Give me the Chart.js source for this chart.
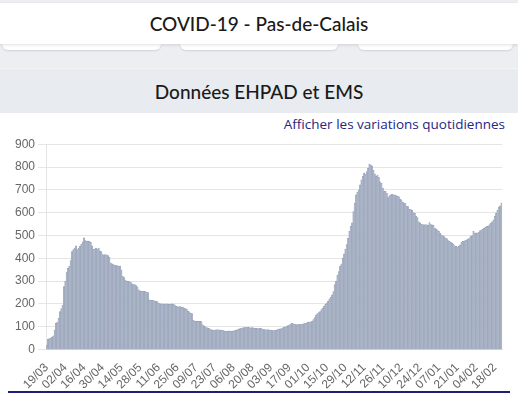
<!DOCTYPE html>
<html>
<head>
<meta charset="utf-8">
<script src="https://cdn.jsdelivr.net/npm/chart.js@4"></script>
<style>
  html, body { margin: 0; padding: 0; }
  body { width: 518px; height: 394px; overflow: hidden; background: #eceef1; position: relative; font-family: Lato, "Noto Sans", sans-serif; }
  .top { position: absolute; left: 0; top: 3px; width: 518px; height: 41px; background: #fff; z-index: 2;
         box-shadow: 0 1px 3px rgba(0,0,0,0.12); text-align: center; line-height: 41px; font-size: 19px; font-weight: 500; color: #1a1a1a; }
  .card { position: absolute; top: 30px; height: 20px; background: #fff; border-radius: 0 0 6px 6px; box-shadow: 0 1px 2px rgba(0,0,0,0.12); }
  .band { position: absolute; left: 0; top: 68px; width: 518px; height: 45px; background: #e8ebef; border-top: 1px solid #f3f4f6;
          text-align: center; line-height: 46px; font-size: 19px; font-weight: 500; color: #1a1a1a; }
  .panel { position: absolute; left: 0; top: 113px; width: 518px; height: 281px; background: #fff; }
  .link { position: absolute; right: 13px; top: 115px; font-family: "Open Sans", sans-serif; font-size: 13.5px; color: #262683; }
  .wrap { position: absolute; left: 12px; top: 134px; width: 496px; height: 262px; }
  .rule { position: absolute; left: 8px; top: 391px; width: 502px; height: 2px; background: #1f1f78; }
</style>
</head>
<body>
<div class="top">COVID-19 - Pas-de-Calais</div>
<div class="card" style="left:2px;width:159px"></div>
<div class="card" style="left:180px;width:158px"></div>
<div class="card" style="left:358px;width:155px"></div>
<div class="band">Données EHPAD et EMS</div>
<div class="panel"></div>
<div class="link">Afficher les variations quotidiennes</div>
<div class="wrap"><canvas id="chart"></canvas></div>
<div class="rule"></div>
<script>
// first day of the series and number of days shown
const startDate = [2020, 2, 19];
const dayCount = 342;

const tickLabels = ['19/03', '02/04', '16/04', '30/04', '14/05', '28/05', '11/06', '25/06', '09/07',
  '23/07', '06/08', '20/08', '03/09', '17/09', '01/10', '15/10', '29/10', '12/11', '26/11',
  '10/12', '24/12', '07/01', '21/01', '04/02', '18/02'];

// residents in EHPAD / EMS, one value per day (rows of 14 days)
const ehpadValues = [
  20, 45, 48, 50, 55, 60, 85, 115, 120, 137, 166, 180, 195, 276,
  300, 340, 357, 365, 390, 430, 438, 445, 455, 438, 445, 452, 462, 472,
  490, 478, 475, 475, 474, 470, 455, 440, 440, 445, 440, 445, 432, 430,
  416, 415, 416, 415, 412, 404, 380, 376, 372, 370, 368, 368, 365, 366,
  350, 321, 315, 305, 300, 300, 298, 295, 288, 285, 285, 280, 275, 262,
  258, 256, 255, 255, 254, 252, 250, 218, 217, 216, 215, 214, 213, 210,
  203, 201, 200, 200, 199, 199, 200, 199, 198, 199, 200, 198, 196, 190,
  188, 187, 188, 186, 185, 181, 180, 178, 168, 165, 160, 158, 128, 125,
  125, 124, 125, 124, 123, 108, 104, 100, 96, 94, 92, 88, 87, 86,
  86, 87, 88, 87, 86, 85, 84, 82, 80, 80, 81, 82, 80, 81,
  82, 83, 85, 88, 90, 92, 94, 95, 96, 97, 96, 97, 96, 95,
  96, 95, 94, 93, 92, 92, 93, 92, 90, 88, 88, 87, 88, 86,
  85, 84, 82, 84, 86, 88, 90, 91, 92, 95, 98, 100, 102, 105,
  108, 112, 115, 113, 112, 110, 110, 111, 110, 111, 112, 114, 115, 117,
  120, 121, 122, 124, 131, 140, 152, 158, 162, 167, 175, 182, 190, 198,
  204, 212, 222, 230, 240, 254, 285, 300, 325, 342, 365, 375, 400, 420,
  440, 460, 488, 518, 540, 555, 605, 642, 678, 690, 700, 722, 744, 759,
  773, 769, 780, 795, 813, 810, 803, 785, 770, 760, 765, 755, 735, 730,
  708, 695, 693, 686, 666, 675, 678, 680, 678, 678, 675, 672, 670, 658,
  656, 645, 642, 640, 628, 627, 615, 613, 610, 600, 598, 585, 578, 560,
  555, 550, 548, 547, 548, 547, 545, 556, 548, 547, 545, 532, 528, 525,
  518, 510, 503, 500, 495, 490, 486, 478, 474, 470, 466, 462, 455, 452,
  450, 452, 459, 470, 474, 476, 480, 481, 485, 490, 496, 500, 518, 510,
  512, 510, 515, 522, 525, 528, 532, 536, 540, 540, 548, 554, 560, 569,
  585, 598, 610, 625, 630, 642
];

const categories = [];
for (let i = 0; i < dayCount; i++) {
  const d = new Date(startDate[0], startDate[1], startDate[2] + i);
  categories.push(String(d.getDate()).padStart(2, '0') + '/' + String(d.getMonth() + 1).padStart(2, '0'));
}

const ctx = document.getElementById('chart').getContext('2d');
new Chart(ctx, {
  type: 'bar',
  data: {
    labels: categories,
    datasets: [{
      data: ehpadValues,
      backgroundColor: '#abb5c8',
      borderColor: '#909cb3',
      borderWidth: 0.5,
      barPercentage: 1,
      categoryPercentage: 1
    }]
  },
  options: {
    responsive: true,
    maintainAspectRatio: false,
    animation: false,
    layout: { padding: { bottom: 1 } },
    plugins: { legend: { display: false }, tooltip: { enabled: false } },
    scales: {
      x: {
        grid: { display: false },
        border: { color: 'rgba(0,0,0,0.1)' },
        ticks: {
          autoSkip: false,
          maxRotation: 45,
          minRotation: 45,
          color: '#666',
          font: { size: 12 },
          callback: function (value, index) {
            const lab = categories[index];
            return tickLabels.includes(lab) ? lab : null;
          }
        }
      },
      y: {
        min: 0,
        max: 900,
        ticks: { stepSize: 100, color: '#666', font: { size: 12 } },
        grid: { color: 'rgba(0,0,0,0.1)' },
        border: { color: 'rgba(0,0,0,0.1)' }
      }
    }
  }
});
</script>
</body>
</html>
